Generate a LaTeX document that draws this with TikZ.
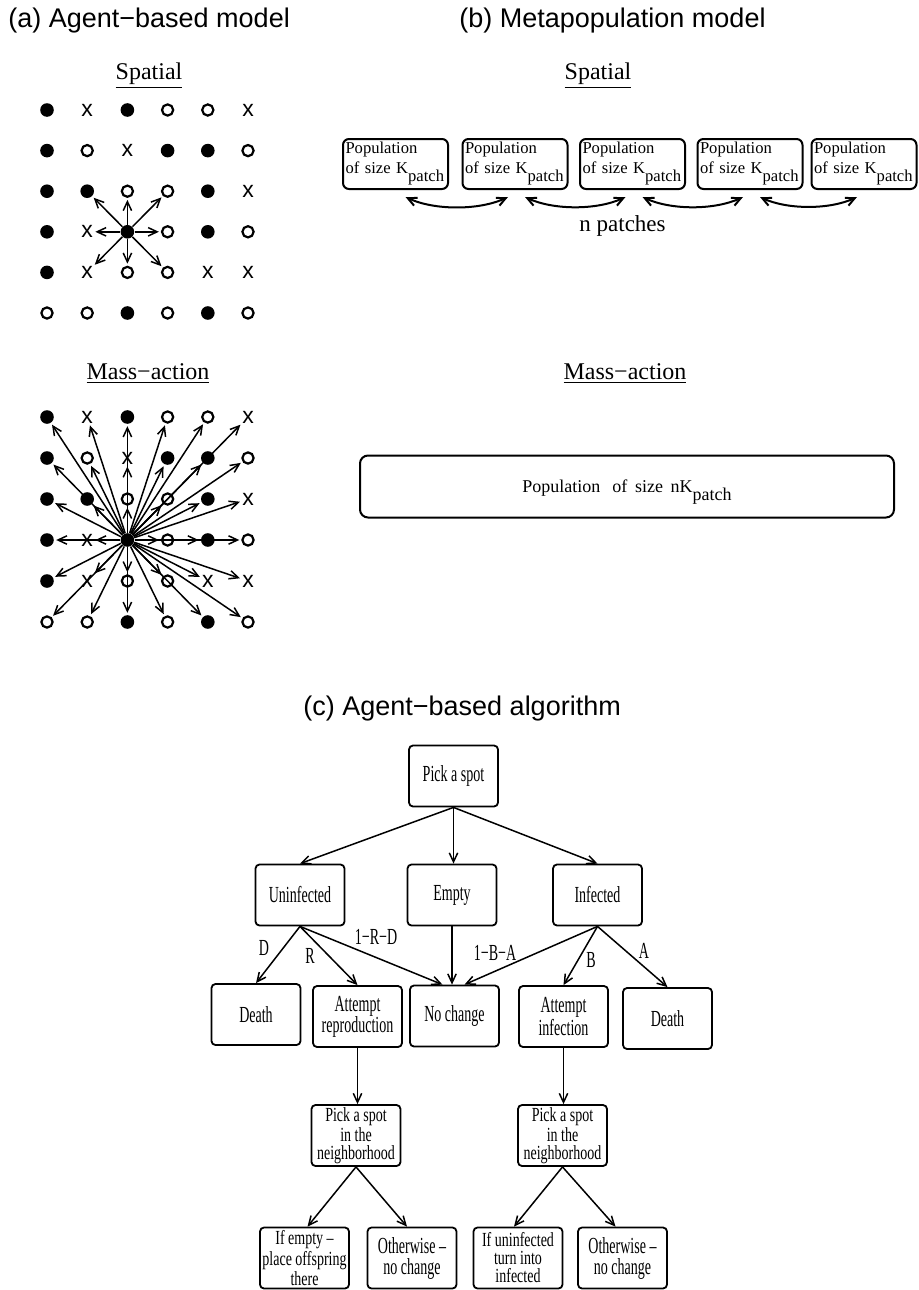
\documentclass[tikz,border=0pt]{standalone}
\usepackage{fontspec}
\setmainfont{Liberation Serif}
\newfontfamily\sansfont{Liberation Sans}
\newfontfamily\condfont[FakeStretch=0.61]{Liberation Serif}
\newfontfamily\condfontB[FakeStretch=0.7]{Liberation Serif}
\usetikzlibrary{arrows.meta}

\newcommand{\patchsub}{\raisebox{-4pt}{patch}}

\tikzset{
	cellf/.style={circle, fill, inner sep=0pt, minimum size=6.8pt, node contents={}},
	cello/.style={circle, draw, line width=1.1pt, inner sep=0pt, minimum size=5.6pt, node contents={}},
	cellx/.style={inner sep=0pt, font=\sansfont\fontsize{11.5}{11.5}\selectfont, node contents={x}},
	spoke/.style={->, line width=0.75pt, shorten >=1pt},
	heading/.style={font=\fontsize{12}{12}\selectfont},
	paneltitle/.style={anchor=west, inner sep=0pt, font=\sansfont\fontsize{13.5}{13.5}\selectfont},
	patchbox/.style={draw, rounded corners=3pt, line width=1pt, minimum height=25pt, inner sep=1.25pt, text width=50pt, align=left, font=\fontsize{8.3}{10}\selectfont},
	migrate/.style={<->, line width=1pt},
	stepbox/.style={draw, rounded corners=2pt, line width=0.9pt, minimum width=44.5pt, minimum height=30.5pt, inner sep=1pt, align=center, font=\condfont\fontsize{11.5}{10.5}\selectfont},
	tallbox/.style={stepbox, font=\condfontB\fontsize{10}{9}\selectfont},
	flow/.style={->, line width=0.75pt},
	prob/.style={inner sep=0pt, font=\condfont\fontsize{11.5}{11.5}\selectfont}
}

\begin{document}
\begin{tikzpicture}[x=0.5pt, y=0.5pt, >={Straight Barb[length=4.5pt,width=4.2pt]}]

	\useasboundingbox (0,0) rectangle (918,-1290);

	% Titler
	\node [paneltitle] (titleA) at (8,-21)    {(a) Agent−based model};
	\node [paneltitle] (titleB) at (459,-21)  {(b) Metapopulation model};
	\node [paneltitle] (titleC) at (303,-709) {(c) Agent−based algorithm};

	\node [heading] (spatialA) at (149,-76)  {\underline{Spatial}};
	\node [heading] (massA)    at (148,-374) {\underline{Mass−action}};
	\node [heading] (spatialB) at (598,-76)  {\underline{Spatial}};
	\node [heading] (massB)    at (625,-374) {\underline{Mass−action}};

	% Gitter (f = infisert, o = uinfisert, x = tom)
	\foreach \cells [count=\r] in {{f,x,f,o,o,x},{f,o,x,f,f,o},{f,f,o,o,f,x},{f,x,f,o,f,o},{f,x,o,o,x,x},{o,o,f,o,f,o}}
		\foreach \t [count=\c] in \cells {
			\node (s-\r-\c) at ({47+40.2*(\c-1)},{-110-40.6*(\r-1)}) [cell\t];
			\node (m-\r-\c) at ({47+40.2*(\c-1)},{-417-41*(\r-1)}) [cell\t];
		}

	% Naboer
	\foreach \r/\c in {3/2,3/3,3/4,4/2,4/4,5/2,5/3,5/4}
		\draw [spoke] (s-4-3) -- (s-\r-\c);

	% Alle
	\foreach \r in {1,...,6}
		\foreach \c in {1,...,6}
			{\ifnum\r\c=43 \else \draw [spoke] (m-4-3) -- (m-\r-\c); \fi}

	% Metapopulasjon
	\foreach \x [count=\i] in {395.5,515,632.5,750,864}
		\node [patchbox] (p\i) at (\x,-164) {Population\\of size K\patchsub};

	\foreach \i [evaluate=\i as \j using int(\i+1)] in {1,...,4}
		\draw [migrate] ([xshift=5pt,yshift=-3.5pt]p\i.south) to[out=-25,in=-155,looseness=0.8] ([xshift=-3.5pt,yshift=-3.5pt]p\j.south);

	\node [font=\fontsize{11.5}{11.5}\selectfont] (npatch) at (622.5,-226) {n patches};

	\node [draw, rounded corners=4pt, line width=1pt, minimum width=267pt, minimum height=31pt, text depth=0pt, font=\fontsize{9}{9}\selectfont] (whole) at (627,-486.5) {Population\hspace{6pt}of\hspace{3.8pt}size\hspace{3.8pt}nK\patchsub\hspace{13pt}};

	% Algoritme
	\node [stepbox] (pick)   at (453.5,-776)   {Pick a spot};
	\node [stepbox] (uninf)  at (300,-895)     {Uninfected};
	\node [stepbox] (empty)  at (452,-895)     {Empty};
	\node [stepbox] (inf)    at (597.5,-895)   {Infected};
	\node [stepbox] (deathL) at (256,-1014.5)  {Death};
	\node [stepbox] (attrep) at (357.5,-1016.5) {Attempt\\reproduction};
	\node [stepbox] (nochg)  at (454.5,-1016)  {No change};
	\node [stepbox] (attinf) at (563.5,-1016.5) {Attempt\\infection};
	\node [stepbox] (deathR) at (667.5,-1018.5) {Death};
	\node [tallbox] (nbhdL)  at (356,-1135.5)  {Pick a spot\\in the\\neighborhood};
	\node [tallbox] (nbhdR)  at (562.5,-1135.5) {Pick a spot\\in the\\neighborhood};
	\node [tallbox] (offspr) at (304.5,-1258)  {If empty –\\place offspring\\there};
	\node [stepbox] (keepL)  at (412,-1258)    {Otherwise –\\no change};
	\node [tallbox] (turn)   at (518,-1258)    {If uninfected\\turn into\\infected};
	\node [stepbox] (keepR)  at (622.5,-1258)  {Otherwise –\\no change};

	\draw [flow] (pick.south) -- (uninf.north);
	\draw [flow] (pick.south) -- (pick.south |- empty.north);
	\draw [flow] (pick.south) -- (inf.north);

	\draw [flow] (uninf.south) -- (deathL.north);
	\draw [flow] (uninf.south) -- (attrep.north);
	\draw [flow] (uninf.south) -- ([xshift=-6pt]nochg.north);
	\draw [flow] (empty.south) -- (empty.south |- nochg.north);
	\draw [flow] (inf.south) -- ([xshift=5pt]nochg.north);
	\draw [flow] (inf.south) -- (attinf.north);
	\draw [flow] (inf.south) -- (deathR.north);

	\draw [flow] (attrep.south) -- (attrep.south |- nbhdL.north);
	\draw [flow] (attinf.south) -- (attinf.south |- nbhdR.north);

	\draw [flow] (nbhdL.south) -- ([xshift=1.5pt]offspr.north);
	\draw [flow] (nbhdL.south) -- ([xshift=-2.5pt]keepL.north);
	\draw [flow] (nbhdR.south) -- ([xshift=-2pt]turn.north);
	\draw [flow] (nbhdR.south) -- ([xshift=-3.5pt]keepR.north);

	% Sannsynligheter
	\node [prob] (lD)  at (264,-948) {D};
	\node [prob] (lR)  at (310,-956) {R};
	\node [prob] (lRD) at (376,-937) {1−R−D};
	\node [prob] (lBA) at (495,-953) {1−B−A};
	\node [prob] (lB)  at (591,-960) {B};
	\node [prob] (lA)  at (644,-951) {A};

\end{tikzpicture}
\end{document}
